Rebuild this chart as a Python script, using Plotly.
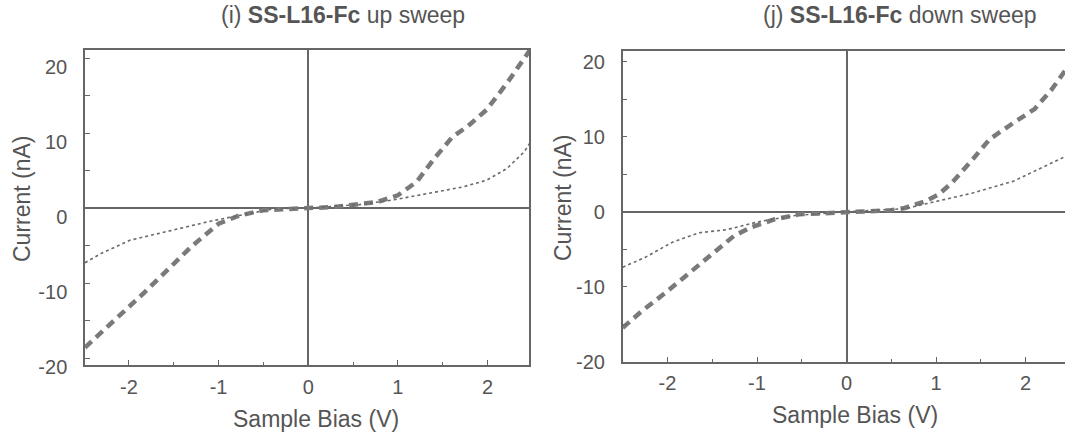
import plotly.graph_objects as go

# ---- I-V data (sample bias in V, tunnelling current in nA) ----
# (i) up sweep
up_bias_thick = [-2.49, -2.18, -1.84, -1.53, -1.30, -1.00, -0.77, -0.50, -0.25, 0.00,
                 0.25, 0.50, 0.77, 1.00, 1.21, 1.42, 1.61, 1.78, 1.99, 2.22, 2.47]
up_current_thick = [-18.6, -15.2, -11.4, -7.8, -5.1, -2.1, -1.0, -0.3, -0.1, 0.0,
                    0.1, 0.45, 0.8, 1.7, 3.5, 6.8, 9.5, 10.9, 13.1, 16.7, 21.0]
up_bias_thin = [-2.49, -2.30, -1.99, -1.53, -1.07, -0.69, -0.38, 0.00,
                0.57, 0.96, 1.34, 1.72, 1.99, 2.22, 2.41, 2.47]
up_current_thin = [-7.3, -6.0, -4.3, -3.05, -1.7, -0.8, -0.1, 0.0,
                   0.45, 1.1, 2.0, 2.8, 3.7, 5.3, 7.5, 8.6]

# (j) down sweep
down_bias_thick = [-2.50, -2.29, -2.02, -1.76, -1.53, -1.26, -1.07, -0.80, -0.53, 0.00,
                   0.50, 0.65, 0.88, 1.03, 1.18, 1.41, 1.60, 1.87, 2.10, 2.29, 2.50]
down_current_thick = [-15.5, -13.3, -10.8, -8.2, -5.9, -3.25, -2.1, -1.0, -0.35, 0.0,
                      0.2, 0.5, 1.4, 2.3, 3.9, 7.0, 9.7, 11.9, 13.7, 16.3, 19.8]
down_bias_thin = [-2.50, -2.25, -1.95, -1.64, -1.34, -0.95, -0.57, 0.00,
                  0.65, 1.03, 1.41, 1.87, 2.10, 2.44, 2.50]
down_current_thin = [-7.4, -6.1, -4.1, -2.8, -2.4, -1.25, -0.5, 0.0,
                     0.4, 1.4, 2.5, 4.1, 5.4, 7.4, 7.7]

# ---- tick labels ----
x_tick_vals = [-2, -1, 0, 1, 2]
x_tick_text = ["-2", "-1", "0", "1", "2"]
y_tick_vals = [-20, -10, 0, 10, 20]
y_tick_text = ["-20", "-10", "0", "10", "20"]

panel_titles = ["(i) <b>SS-L16-Fc</b> up sweep", "(j) <b>SS-L16-Fc</b> down sweep"]
x_title = "Sample Bias (V)"
y_title = "Current (nA)"

W, H = 1065, 434
FONT = "Liberation Sans, Arial, sans-serif"
TXT = "#555555"
AX = "#666666"
THICK = "#7a7a7a"
THIN = "#6a6a6a"


def px(x):
    return x / W


def py(y):
    return 1 - y / H


fig = go.Figure()

thick_style = dict(color=THICK, width=4.5, dash="9px,6px")
thin_style = dict(color=THIN, width=1.6, dash="3px,3px")

fig.add_trace(go.Scatter(x=up_bias_thick, y=up_current_thick, mode="lines",
                         line=thick_style, xaxis="x", yaxis="y"))
fig.add_trace(go.Scatter(x=up_bias_thin, y=up_current_thin, mode="lines",
                         line=thin_style, xaxis="x", yaxis="y"))
fig.add_trace(go.Scatter(x=down_bias_thick, y=down_current_thick, mode="lines",
                         line=thick_style, xaxis="x2", yaxis="y2"))
fig.add_trace(go.Scatter(x=down_bias_thin, y=down_current_thin, mode="lines",
                         line=thin_style, xaxis="x2", yaxis="y2"))

common_x = dict(
    automargin=False,
    tickmode="array", tickvals=x_tick_vals, ticktext=x_tick_text,
    ticks="inside", ticklen=5, tickwidth=1.2, tickcolor=AX,
    minor=dict(dtick=0.5, tick0=0, ticks="inside", ticklen=3, tickcolor=AX, showgrid=False),
    showgrid=False, showline=True, linecolor=AX, linewidth=1.5, mirror=True,
    zeroline=True, zerolinecolor=AX, zerolinewidth=1.5,
    tickfont=dict(family=FONT, size=20, color=TXT), ticklabelstandoff=3,
)
common_y = dict(
    automargin=False,
    tickmode="array", tickvals=y_tick_vals, ticktext=y_tick_text,
    ticks="inside", ticklen=5, tickwidth=1.2, tickcolor=AX,
    minor=dict(dtick=5, tick0=0, ticks="inside", ticklen=5, tickcolor=AX, showgrid=False),
    showgrid=False, showline=True, linecolor=AX, linewidth=1.5,
    zeroline=True, zerolinecolor=AX, zerolinewidth=1.5,
    tickfont=dict(family=FONT, size=20, color=TXT), ticklabelstandoff=12,
)

fig.update_layout(
    width=W, height=H,
    margin=dict(l=0, r=0, t=0, b=0),
    paper_bgcolor="white", plot_bgcolor="white",
    showlegend=False,
    xaxis=dict(common_x, domain=[px(85), px(529)], range=[-2.49, 2.463], anchor="y"),
    yaxis=dict(common_y, domain=[py(365), py(50)], range=[-20.93, 21.07], anchor="x",
               mirror=True, ticklabelshift=9),
    xaxis2=dict(common_x, domain=[px(622.7), 1.0], range=[-2.50, 2.44], anchor="y2"),
    yaxis2=dict(common_y, domain=[py(361.7), py(51)], range=[-20.02, 21.45], anchor="x2",
                mirror=False),
)

annotations = [
    # panel titles
    dict(text=panel_titles[0], x=px(343), y=py(15), font=dict(size=23)),
    dict(text=panel_titles[1], x=px(900), y=py(15), font=dict(size=23)),
    # x-axis titles
    dict(text=x_title, x=px(316), y=py(419), font=dict(size=23)),
    dict(text=x_title, x=px(855), y=py(415), font=dict(size=23)),
    # y-axis titles
    dict(text=y_title, x=px(22), y=py(199), font=dict(size=23), textangle=-90),
    dict(text=y_title, x=px(563), y=py(198), font=dict(size=23), textangle=-90),
]
for a in annotations:
    a["font"].update(family=FONT, color=TXT)
    fig.add_annotation(xref="paper", yref="paper", showarrow=False,
                       xanchor="center", yanchor="middle", **a)

fig.write_html("out.html")
